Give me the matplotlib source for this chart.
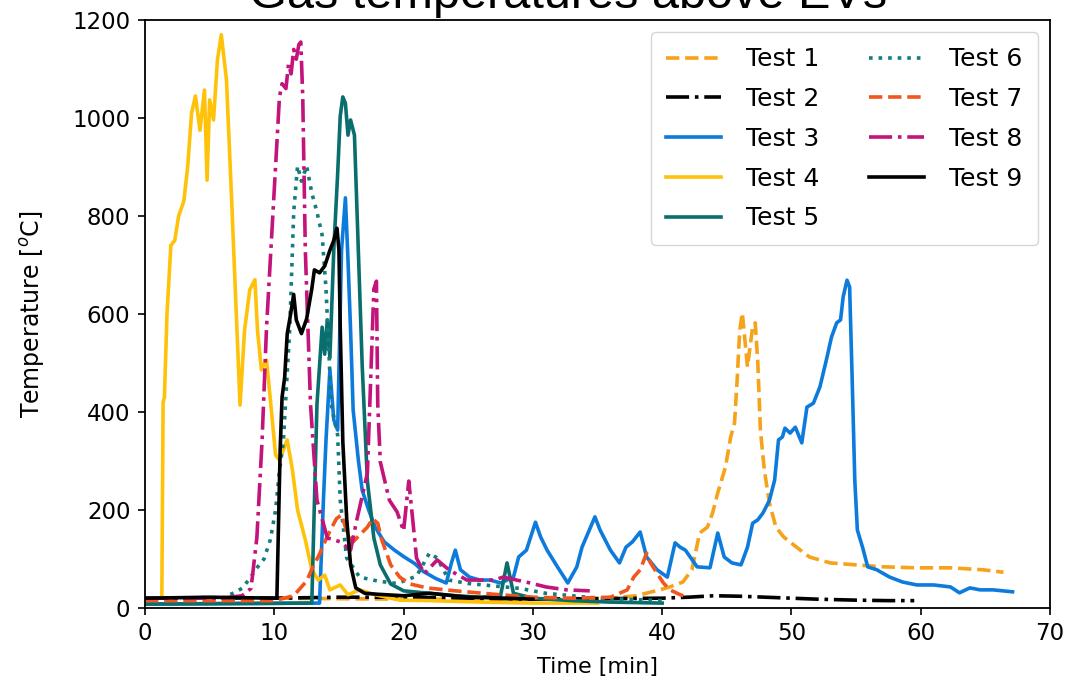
import numpy as np
import matplotlib
matplotlib.use("Agg")
import matplotlib.pyplot as plt

plt.rcParams['font.family'] = ['DejaVu Sans']

# time [min] and gas temperature [degC] per test
t1 = [0, 10, 20, 30, 36, 38, 39.8, 40.6, 41.6, 42.3, 42.9, 43.5, 43.9, 44.3, 44.9, 45.3, 45.6, 45.8,
      46.0, 46.2, 46.4, 46.6, 46.8, 47.0, 47.2, 47.4, 47.6, 47.9, 48.3, 48.8, 49.4, 50.4, 51.4, 53.0,
      55.0, 57.1, 59.7, 62.3, 64.8, 66.4]
T1 = [20, 20, 18, 18, 20, 25, 37, 43, 53, 78, 153, 165, 194, 235, 288, 349, 378, 465,
      567, 602, 547, 492, 533, 573, 582, 500, 363, 282, 214, 165, 145, 124, 104, 92,
      88, 84, 82, 82, 78, 73]

t2 = [0, 5, 10, 15, 20, 25, 30, 35, 40, 42, 44, 46, 48, 50, 52, 55, 57.5, 59.5]
T2 = [20, 21, 20, 22, 22, 20, 18, 19, 20, 22, 25, 24, 22, 20, 18, 16, 15, 15]

t3 = [0, 13.5, 13.8, 14.0, 14.3, 14.6, 14.9, 15.2, 15.5, 15.7, 15.9, 16.1, 16.5, 16.8, 17.3, 17.8,
      18.5, 19.3, 20.0, 20.9, 21.5, 22.5, 23.3, 23.7, 24.0, 24.4, 25.1, 25.9, 26.7, 27.5, 28.5, 28.9,
      29.5, 30.2, 30.6, 31.1, 31.9, 32.7, 33.4, 33.8, 34.8, 35.2, 36.0, 36.7, 37.2, 37.7, 38.3, 38.8,
      39.6, 40.4, 41.0, 41.4, 41.8, 42.7, 43.7, 44.3, 44.8, 45.4, 46.1, 46.6, 47.0, 47.4, 47.8, 48.3,
      48.7, 49.0, 49.3, 49.5, 49.9, 50.3, 50.8, 51.2, 51.7, 52.2, 52.7, 53.1, 53.5, 53.8, 54.0, 54.3,
      54.5, 54.7, 54.9, 55.1, 55.5, 55.9, 56.6, 57.6, 58.6, 59.7, 61.0, 62.3, 63.0, 63.8, 64.6, 65.6,
      67.1]
T3 = [8, 10, 220, 343, 486, 384, 363, 730, 837, 710, 567, 404, 302, 240, 200, 165,
      135, 118, 105, 90, 75, 60, 51, 92, 118, 78, 63, 57, 57, 51, 63, 104,
      118, 175, 145, 118, 84, 51, 84, 124, 186, 159, 118, 92, 124, 135, 155, 104,
      78, 63, 133, 124, 118, 84, 82, 153, 104, 92, 88, 124, 173, 180, 194, 220,
      261, 343, 349, 367, 357, 369, 337, 410, 418, 451, 506, 553, 582, 588, 635, 669,
      655, 465, 261, 159, 124, 84, 78, 63, 53, 47, 47, 43, 31, 41, 37, 37,
      33]

t4 = [0, 1.3, 1.4, 1.5, 1.7, 2.0, 2.3, 2.6, 3.0, 3.3, 3.6, 3.9, 4.25, 4.6, 4.8, 5.0, 5.3, 5.6,
      5.9, 6.3, 6.7, 7.35, 7.7, 8.1, 8.5, 8.7, 9.0, 9.4, 9.7, 10.1, 10.4, 11.0, 11.4, 11.8, 12.4,
      12.9, 13.4, 13.9, 14.3, 15.1, 15.7, 16.6, 17.8, 19.7, 22, 26, 30, 35]
T4 = [20, 20, 420, 430, 600, 740, 750, 800, 830, 900, 1010, 1045, 975, 1057, 873, 1037, 996, 1118,
      1170, 1078, 833, 414, 567, 649, 670, 567, 486, 506, 424, 312, 302, 343, 282, 200, 139,
      78, 57, 67, 37, 47, 27, 37, 27, 16, 15, 12, 10, 10]

t5 = [0, 12.9, 13.3, 13.7, 13.9, 14.1, 14.3, 14.6, 14.9, 15.1, 15.3, 15.5, 15.7, 15.9, 16.2, 16.5,
      16.8, 17.2, 17.7, 18.2, 19.0, 20, 22, 24, 26, 27.5, 28.0, 28.5, 30, 33, 36, 40]
T5 = [8, 10, 416, 573, 518, 588, 510, 730, 886, 1004, 1043, 1030, 965, 996, 965, 730,
      494, 259, 143, 88, 49, 35, 30, 25, 22, 25, 92, 30, 20, 15, 12, 10]

t6 = [0, 6.0, 6.8, 7.5, 8.1, 8.6, 9.2, 9.7, 10.1, 10.4, 10.7, 11.2, 11.5, 11.8, 12.1, 12.5, 12.9,
      13.3, 13.7, 14.0, 14.2, 14.4, 14.7, 14.9, 15.1, 15.6, 16.6, 18, 19.5, 21.0, 22.0, 22.6, 23.5,
      25, 27, 29, 31, 35, 40]
T6 = [20, 20, 30, 40, 60, 80, 100, 140, 200, 280, 339, 573, 808, 902, 871, 902, 847,
      808, 761, 651, 535, 416, 377, 353, 220, 102, 63, 55, 50, 65, 112, 102, 57,
      50, 45, 40, 30, 20, 15]

t7 = [0, 10, 11.5, 12.0, 12.5, 13.0, 13.5, 14.0, 14.3, 14.8, 15.2, 15.6, 16.1, 16.6, 17.2, 17.6,
      18.0, 18.3, 18.6, 19.0, 19.7, 20.5, 21.8, 24, 27, 30, 33, 36, 37.3, 37.8, 38.3, 38.8, 39.1,
      39.6, 40.1, 40.6, 41.4, 42.0]
T7 = [15, 15, 25, 40, 55, 85, 110, 140, 157, 182, 190, 157, 135, 149, 165, 182,
      173, 140, 118, 88, 63, 49, 41, 35, 28, 22, 20, 22, 37, 63, 78, 112, 92,
      71, 51, 37, 27, 22]

t8 = [0, 6, 7.5, 8.2, 8.65, 9.05, 9.4, 9.9, 10.4, 10.6, 10.9, 11.1, 11.3, 11.5, 11.7, 11.9, 12.05,
      12.2, 12.4, 12.8, 13.3, 14.1, 15.1, 15.9, 16.4, 17.2, 17.7, 17.9, 18.0, 18.2, 18.9, 19.5, 20.0,
      20.4, 20.7, 21.0, 21.6, 22.6, 23.5, 24.9, 27.0, 27.7, 29.8, 31.0, 32.6, 34.4]
T8 = [20, 20, 25, 40, 143, 339, 573, 808, 1043, 1070, 1060, 1110, 1090, 1140, 1120, 1150, 1155,
      1043, 730, 416, 220, 143, 135, 118, 182, 275, 651, 667, 416, 298, 220, 196, 157,
      259, 182, 102, 70, 98, 78, 57, 57, 63, 51, 43, 37, 35]

t9 = [0, 5, 10.2, 10.45, 10.6, 10.8, 11.0, 11.2, 11.5, 11.7, 12.1, 12.5, 12.9, 13.1, 13.5, 13.9,
      14.3, 14.6, 14.85, 15.0, 15.1, 15.3, 15.6, 15.9, 16.3, 17, 18, 20, 22, 25, 28, 30]
T9 = [20, 22, 20, 320, 430, 470, 560, 590, 640, 588, 560, 590, 651, 690, 684, 698,
      730, 750, 775, 730, 573, 339, 182, 88, 41, 30, 28, 25, 30, 22, 20, 18]

labels = ['Test %d' % i for i in range(1, 10)]
colors = ['#F5A31A', 'black', '#0C7BDC', '#FFC20A', '#0B6E6E',
          '#147C7C', '#F0561E', '#C2147A', 'black']
styles = ['--', '-.', '-', '-', '-', ':', '--', '-.', '-']
series = [(t1, T1), (t2, T2), (t3, T3), (t4, T4), (t5, T5),
          (t6, T6), (t7, T7), (t8, T8), (t9, T9)]

fig = plt.figure(figsize=(10.71, 6.92), dpi=100)
ax = fig.add_axes([0.1354, 0.1214, 0.845, 0.8497])

for (t, T), lab, c, ls in zip(series, labels, colors, styles):
    ax.plot(t, T, ls, color=c, lw=2.6, label=lab)

ax.set_xlim(0, 70)
ax.set_ylim(0, 1200)
ax.set_xticks(np.arange(0, 71, 10))
ax.set_yticks(np.arange(0, 1201, 200))
ax.tick_params(labelsize=16.5, length=5, width=1.2)
ax.tick_params(axis='x', pad=5)
ax.tick_params(axis='y', pad=5.5)
for s in ax.spines.values():
    s.set_linewidth(1.3)

ax.set_xlabel('Time [min]', fontsize=16, labelpad=9)
ax.set_ylabel(r'Temperature [$^o$C]', fontsize=17, labelpad=18)
ax.legend(loc='upper right', ncol=2, fontsize=18, labelspacing=0.63,
          handlelength=2.2, handletextpad=1.0, columnspacing=2.0, borderpad=0.6)

fig.text(0.53, 0.989, 'Gas temperatures above EVs', family='Liberation Sans',
         fontsize=35, ha='center', va='baseline')

fig.savefig('out.png', dpi=100)
